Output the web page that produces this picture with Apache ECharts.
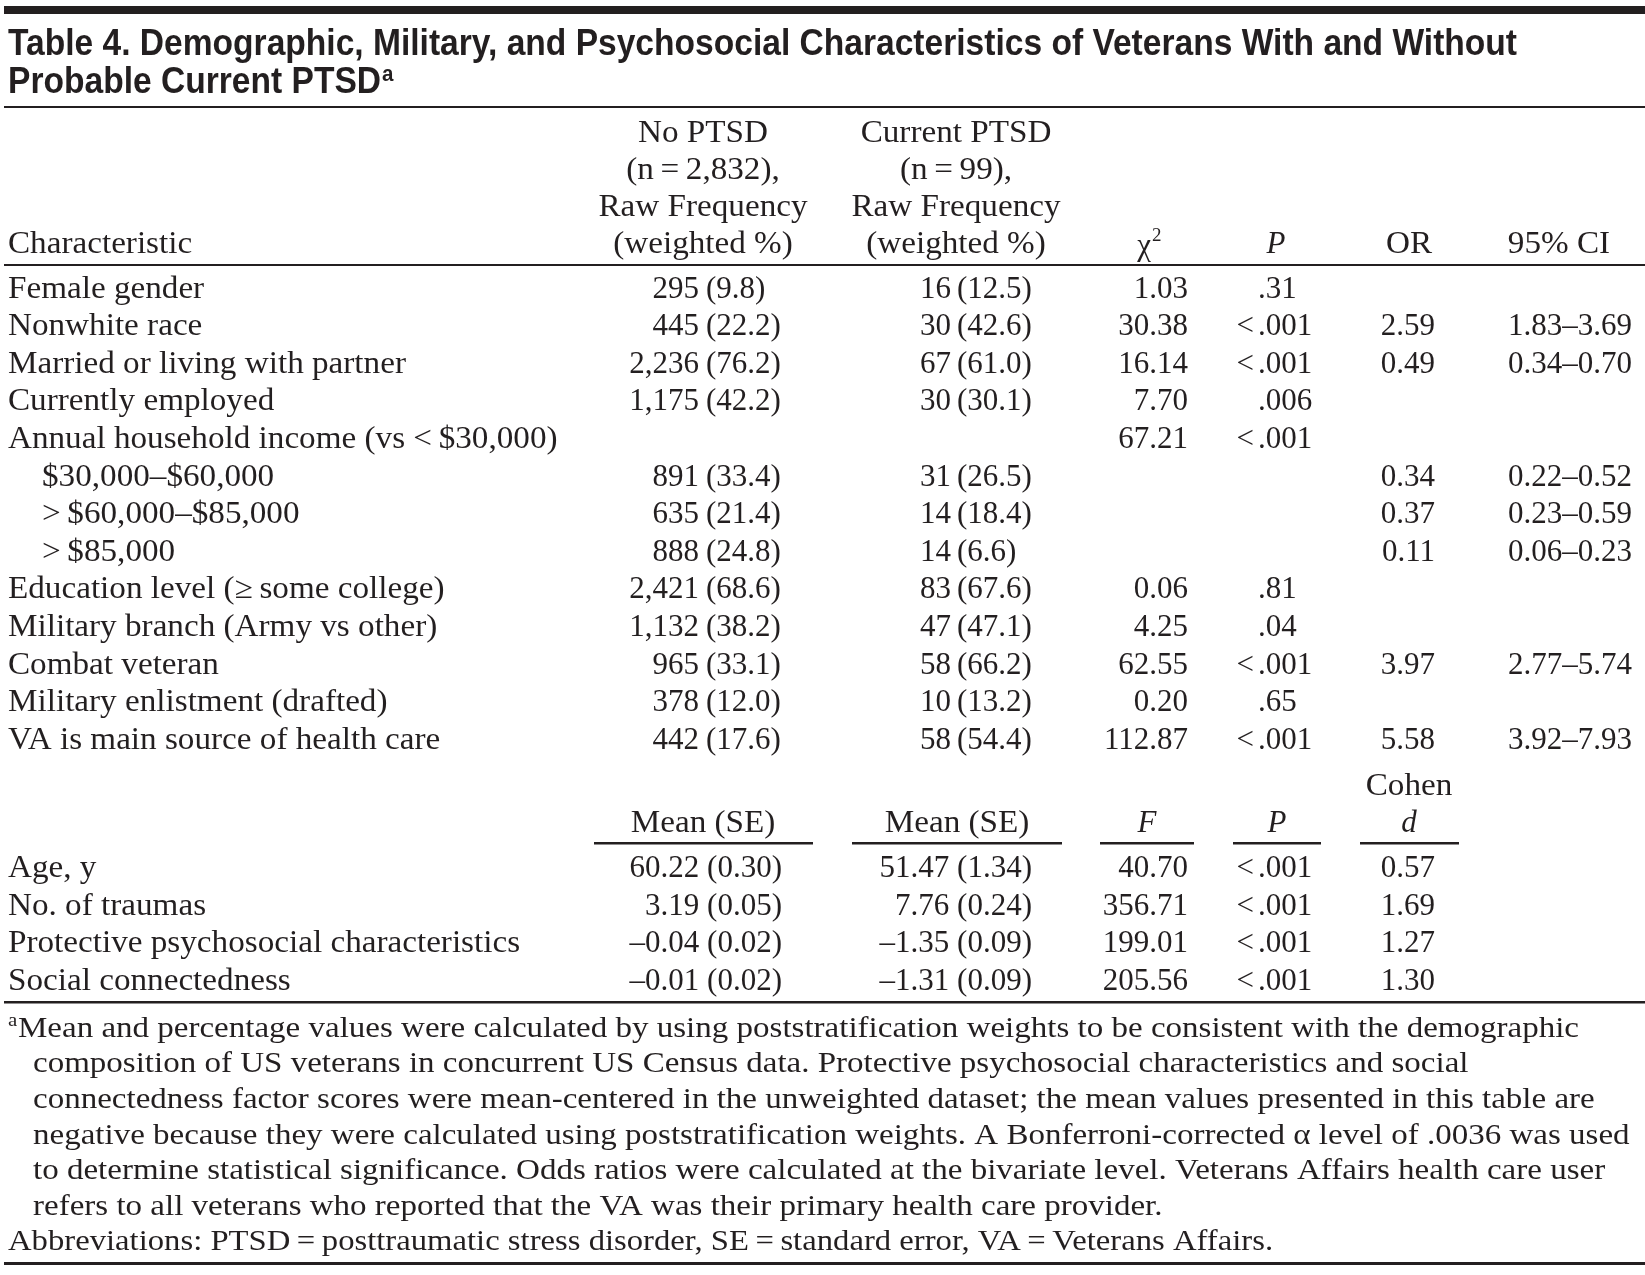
<!DOCTYPE html>
<html><head><meta charset="utf-8">
<script src="https://cdn.jsdelivr.net/npm/echarts@6/dist/echarts.min.js"></script>
<style>html,body{margin:0;padding:0;background:#fff}#c{width:1645px;height:1275px}</style>
</head><body><div id="c"></div>
<script>
// ---------------- data ----------------
const titleLines = ['Table 4. Demographic, Military, and Psychosocial Characteristics of Veterans With and Without', 'Probable Current PTSD'];
const headNoPtsd = ['No PTSD', '(n\u2009=\u20092,832),', 'Raw Frequency', '(weighted %)'];
const headPtsd = ['Current PTSD', '(n\u2009=\u200999),', 'Raw Frequency', '(weighted %)'];
const headStats = ['\u03c7', 'P', 'OR', '95% CI'];
const characteristics = ['Female gender', 'Nonwhite race', 'Married or living with partner', 'Currently employed',
  'Annual household income (vs <\u2009$30,000)', '$30,000\u2013$60,000', '>\u2009$60,000\u2013$85,000', '>\u2009$85,000',
  'Education level (\u2265\u2009some college)', 'Military branch (Army vs other)', 'Combat veteran',
  'Military enlistment (drafted)', 'VA is main source of health care'];
const indented = [0, 0, 0, 0, 0, 1, 1, 1, 0, 0, 0, 0, 0];
const noPtsd = ['295 (9.8)', '445 (22.2)', '2,236 (76.2)', '1,175 (42.2)', '', '891 (33.4)', '635 (21.4)', '888 (24.8)',
  '2,421 (68.6)', '1,132 (38.2)', '965 (33.1)', '378 (12.0)', '442 (17.6)'];
const curPtsd = ['16 (12.5)', '30 (42.6)', '67 (61.0)', '30 (30.1)', '', '31 (26.5)', '14 (18.4)', '14 (6.6)',
  '83 (67.6)', '47 (47.1)', '58 (66.2)', '10 (13.2)', '58 (54.4)'];
const chiSq = ['1.03', '30.38', '16.14', '7.70', '67.21', '', '', '', '0.06', '4.25', '62.55', '0.20', '112.87'];
const pValues = ['.31', '<.001', '<.001', '.006', '<.001', '', '', '', '.81', '.04', '<.001', '.65', '<.001'];
const oddsRatios = ['', '2.59', '0.49', '', '', '0.34', '0.37', '0.11', '', '', '3.97', '', '5.58'];
const ci95 = ['', '1.83\u20133.69', '0.34\u20130.70', '', '', '0.22\u20130.52', '0.23\u20130.59', '0.06\u20130.23', '', '', '2.77\u20135.74', '', '3.92\u20137.93'];
const continuousVars = ['Age, y', 'No. of traumas', 'Protective psychosocial characteristics', 'Social connectedness'];
const meanNoPtsd = ['60.22 (0.30)', '3.19 (0.05)', '\u20130.04 (0.02)', '\u20130.01 (0.02)'];
const meanPtsd = ['51.47 (1.34)', '7.76 (0.24)', '\u20131.35 (0.09)', '\u20131.31 (0.09)'];
const fValues = ['40.70', '356.71', '199.01', '205.56'];
const pValues2 = ['<.001', '<.001', '<.001', '<.001'];
const cohenD = ['0.57', '1.69', '1.27', '1.30'];
const footnoteLines = [
  'Mean and percentage values were calculated by using poststratification weights to be consistent with the demographic',
  'composition of US veterans in concurrent US Census data. Protective psychosocial characteristics and social',
  'connectedness factor scores were mean-centered in the unweighted dataset; the mean values presented in this table are',
  'negative because they were calculated using poststratification weights. A Bonferroni-corrected \u03b1 level of .0036 was used',
  'to determine statistical significance. Odds ratios were calculated at the bivariate level. Veterans Affairs health care user',
  'refers to all veterans who reported that the VA was their primary health care provider.'
];
const abbreviations = 'Abbreviations: PTSD\u2009=\u2009posttraumatic stress disorder, SE\u2009=\u2009standard error, VA\u2009=\u2009Veterans Affairs.';

// ---------------- layout ----------------
const INK = '#231f20';
const SERIF = '"Liberation Serif", "Times New Roman", serif';
const SANS = '"Liberation Sans Narrow", "Liberation Sans", Arial, sans-serif';
const FS = 31;
const LABEL_SX = 1.07;
const ctx = document.createElement('canvas').getContext('2d');
function fontStr(size, family, weight, style) { return (style || 'normal') + ' ' + (weight || 'normal') + ' ' + size + 'px ' + family; }
function tw(text, font) { ctx.font = font; return ctx.measureText(text).width; }

const els = [];
function T(text, x, y, o) {
  o = o || {};
  const size = o.size || FS, fam = o.family || SERIF;
  els.push({
    type: 'text', x: x, y: y, scaleX: o.sx || 1, silent: true,
    style: { text: text, x: 0, y: 0, fill: INK, font: fontStr(size, fam, o.weight, o.style),
      align: o.align || 'left', verticalAlign: o.va || 'middle' }
  });
}
function R(x, y, w, h) { els.push({ type: 'rect', silent: true, shape: { x: x, y: y, width: w, height: h }, style: { fill: INK } }); }

// rules
R(4, 6, 1641, 8);
R(4, 106, 1641, 2);
R(4, 264, 1641, 2);
R(4, 1001, 1641, 2.5);
R(4, 1262, 1641, 3);

// title
const TFS = 36;
const tFont = fontStr(TFS, SANS, 'bold');
const tsx = 1509 / tw(titleLines[0], tFont);
T(titleLines[0], 8, 45, { size: TFS, family: SANS, weight: 'bold', sx: tsx });
T(titleLines[1], 8, 83, { size: TFS, family: SANS, weight: 'bold', sx: tsx });
T('a', 8 + tw(titleLines[1], tFont) * tsx + 1, 75, { size: 22, family: SANS, weight: 'bold', sx: tsx });

// header
const hy = [134, 171, 208, 245];
headNoPtsd.forEach((s, i) => T(s, 703, hy[i], { align: 'center', sx: LABEL_SX }));
headPtsd.forEach((s, i) => T(s, 956, hy[i], { align: 'center', sx: LABEL_SX }));
T('Characteristic', 8, hy[3], { sx: LABEL_SX });
T(headStats[0], 1151, hy[3] + 2, { align: 'right' });
T('2', 1152, hy[3] - 9, { size: 19 });
T(headStats[1], 1276, hy[3], { align: 'center', style: 'italic' });
T(headStats[2], 1409, hy[3], { align: 'center', sx: LABEL_SX });
T(headStats[3], 1559, hy[3], { align: 'center', sx: LABEL_SX });

function splitCell(s, numRight, parLeft, y) {
  if (!s) return;
  const k = s.indexOf(' (');
  T(s.slice(0, k), numRight, y, { align: 'right' });
  T(s.slice(k + 1), parLeft, y, { align: 'left' });
}
function pCell(s, y) {
  if (!s) return;
  if (s[0] === '<') { T('<', 1254, y, { align: 'right' }); T(s.slice(1), 1258, y); }
  else T(s, 1258, y);
}

// body rows (categorical)
const y0 = 289.5, dy = 37.6;
characteristics.forEach((c, i) => {
  const y = y0 + dy * i;
  T(c, indented[i] ? 42 : 8, y, { sx: LABEL_SX });
  splitCell(noPtsd[i], 699, 706, y);
  splitCell(curPtsd[i], 951, 957, y);
  if (chiSq[i]) T(chiSq[i], 1188, y, { align: 'right' });
  pCell(pValues[i], y);
  if (oddsRatios[i]) T(oddsRatios[i], 1435, y, { align: 'right' });
  if (ci95[i]) T(ci95[i], 1632, y, { align: 'right' });
});

// second header
T('Cohen', 1409, 786.5, { align: 'center', sx: LABEL_SX });
T('Mean (SE)', 703, 823.5, { align: 'center', sx: LABEL_SX });
T('Mean (SE)', 957, 823.5, { align: 'center', sx: LABEL_SX });
T('F', 1147, 823.5, { align: 'center', style: 'italic' });
T('P', 1277, 823.5, { align: 'center', style: 'italic' });
T('d', 1409, 823.5, { align: 'center', style: 'italic' });
R(594, 842, 219, 2.5); R(852, 842, 210, 2.5); R(1100, 842, 94, 2.5); R(1233, 842, 88, 2.5); R(1360, 842, 99, 2.5);

// continuous rows
const y1 = 869, dy1 = 37.5;
continuousVars.forEach((c, i) => {
  const y = y1 + dy1 * i;
  T(c, 8, y, { sx: LABEL_SX });
  T(meanNoPtsd[i], 782, y, { align: 'right' });
  T(meanPtsd[i], 1032, y, { align: 'right' });
  T(fValues[i], 1188, y, { align: 'right' });
  pCell(pValues2[i], y);
  T(cohenD[i], 1435, y, { align: 'right' });
});

// footnotes
const FFS = 30;
const fFont = fontStr(FFS, SERIF);
const fsx = 1561 / tw(footnoteLines[0], fFont);
const fy0 = 1029, fdy = 35.6;
T('a', 8, fy0 - 8, { size: 19, sx: fsx });
footnoteLines.forEach((s, i) => T(s, i === 0 ? 18 : 33, fy0 + fdy * i, { size: FFS, sx: fsx }));
T(abbreviations, 8, fy0 + fdy * 6, { size: FFS, sx: fsx * 0.99 });

const chart = echarts.init(document.getElementById('c'), null, { renderer: 'canvas' });
chart.setOption({ backgroundColor: '#ffffff', animation: false, graphic: { elements: els } });
</script></body></html>
